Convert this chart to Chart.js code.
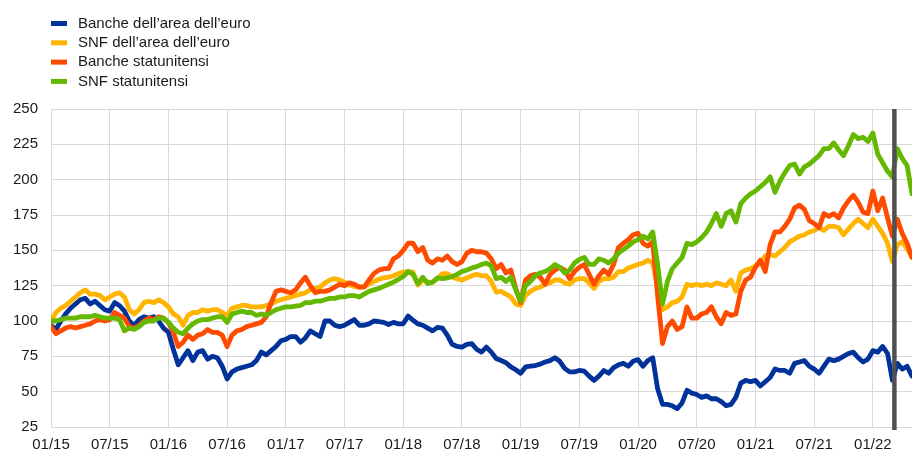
<!DOCTYPE html>
<html>
  <head>
    <meta charset="UTF-8">
    <title>Indici azionari</title>
    <script src="https://cdn.jsdelivr.net/npm/chart.js@4.4.1/dist/chart.umd.min.js"></script>
    <style>
      body { margin: 0; background: #fff; }
      #wrap { position: relative; width: 912px; height: 453px; }
    </style>
  </head>
  <body>
    <div id="wrap"><canvas id="chart"></canvas></div>

    <script>
      // half-month steps since 01/2015
      const months = Array.from({ length: 177 }, (_, i) => i / 2);

      const tickMonths = [0, 6, 12, 18, 24, 30, 36, 42, 48, 54, 60, 66, 72, 78, 84];
      const tickLabels = ['01/15', '07/15', '01/16', '07/16', '01/17', '07/17', '01/18', '07/18',
                          '01/19', '07/19', '01/20', '07/20', '01/21', '07/21', '01/22'];

      const seriesNames = ['Banche dell\u2019area dell\u2019euro', 'SNF dell\u2019area dell\u2019euro',
                           'Banche statunitensi', 'SNF statunitensi'];

      // one row = six months
      const euroBanks = [
        97, 94, 100, 105, 109, 112, 115, 116, 112, 114, 111, 108,
        107, 113, 111, 107, 100, 97, 101, 103, 102, 103, 100, 95,
        92, 80, 69, 74, 79, 72, 78, 79, 73, 75, 74, 68,
        59, 64, 66, 67, 68, 69, 72, 78, 76, 79, 82, 86,
        87, 89, 89, 85, 88, 93, 91, 89, 100, 100, 97, 96,
        97, 99, 101, 97, 97, 98, 100, 99.5, 99, 97.5, 99, 98,
        98, 103.5, 100.5, 98, 97, 95, 93, 95.5, 95, 90, 83.5, 82,
        81.5, 83.5, 84, 80, 78, 81.5, 78, 73.5, 72, 70.5, 67.5, 65.5,
        63, 67.5, 68, 68.5, 69.5, 71, 72, 74, 71.5, 66.5, 64, 64,
        65, 64.5, 61, 58, 61, 65, 63, 67, 69, 70, 68, 71.5,
        72.7, 68, 72, 74, 52, 41, 41, 40, 38, 42, 51, 49,
        48, 46, 47, 45, 45, 43, 40, 41, 46, 56, 58, 57,
        58, 54, 57, 60, 66, 65, 65, 63, 70, 71, 72, 68,
        66, 63, 68, 73, 72, 73, 75, 77, 78, 74, 71, 73,
        79, 78, 82, 77, 58, 70, 66, 68,
        61
      ];

      const euroNfc = [
        100, 106, 109, 111, 114, 117, 120, 122, 119, 119, 118, 115,
        117, 119, 120, 117, 108, 105, 108, 113, 114, 113, 115, 113,
        110, 105, 103, 97, 104, 106, 106, 108, 107, 108, 108, 106,
        104, 109, 110, 111, 111, 110, 110, 110, 111, 112, 114, 115,
        116, 117, 118, 119, 120, 122, 123, 124, 127, 129, 130, 129,
        127.5, 125.5, 124.5, 124, 124.5, 126, 128, 129.5, 130.5, 131, 132, 133.5,
        134.5, 135, 134.5, 125.5, 129, 127.5, 127.5, 130, 133.5, 133.5, 131, 130,
        129, 130.5, 132, 133, 132, 132, 128, 120.5, 121, 119, 117, 112,
        111, 118, 121, 123, 124, 126, 127, 129, 129, 127, 126, 129,
        130, 130, 127, 123, 128, 130, 130, 131, 135, 135, 137.5, 138.7,
        140, 141, 143, 141, 124, 108, 110, 113, 114, 117, 126, 125,
        126, 125, 126, 125, 127, 126, 125, 129, 121, 134, 136, 137,
        139, 141, 146, 147, 146, 149, 152, 156, 158, 160, 161, 163,
        164, 166, 164, 167, 167, 166, 161, 165, 169, 172, 169, 166,
        172, 167, 162, 155, 142, 154, 156, 151,
        145
      ];

      const usBanks = [
        96, 91, 93, 95, 96, 95, 96, 97, 98, 100, 101, 100,
        101, 106, 104, 102, 96, 95, 97, 100, 102, 101, 103, 102,
        99, 92, 82, 85, 90, 87, 90, 91, 94, 92, 92, 90,
        82, 90, 93, 94, 96, 97, 98, 99, 103, 113, 121, 122,
        121, 120, 122, 127, 131, 125, 120, 121, 121, 122, 124, 126,
        125, 127, 126, 124, 124, 129, 133.5, 136, 137, 137, 144, 146,
        150, 155, 155, 149, 152, 143, 141, 144, 143, 146, 142, 140,
        142, 148, 150, 149, 149, 148, 144, 137, 140, 134, 136, 123,
        113, 129, 132, 133, 131, 126, 133, 136, 138, 136, 130, 135,
        138, 140, 133, 126, 132, 136, 133, 140, 152, 155, 157.5, 161,
        162, 155, 153, 156, 118, 84, 96, 100, 94, 96, 110, 102,
        102, 105, 106, 110, 103, 98, 106, 104, 105, 121, 129, 131,
        138, 143, 135, 154, 163, 163, 167, 172, 180, 182, 179, 171,
        169, 166, 176, 174, 176, 173, 180, 185, 189, 184, 177, 176,
        192, 178, 187, 173, 160, 172, 162, 155,
        145
      ];

      const usNfc = [
        100, 100, 101, 102, 102, 102, 103, 103, 103, 104, 103, 102,
        102, 102, 101, 93, 95, 94, 96, 99, 100, 100, 102, 102,
        99, 95, 92, 91, 95, 98, 100, 101, 101, 102, 103, 103,
        99, 105, 106, 107, 106, 106, 104, 105, 104, 106, 108, 109,
        110, 110, 110.5, 111, 113, 113, 114, 114, 115, 116, 116, 117,
        117, 118, 118, 117, 119, 121, 122, 123, 124.5, 126, 127.5, 129.5,
        131.5, 135, 133, 126.5, 131, 126.5, 127.5, 130.5, 130, 130.5, 131.5, 133,
        135, 136, 137.5, 138.5, 140, 141, 139, 130, 131, 128, 131, 122,
        114, 125, 128, 132, 134, 135, 137, 140, 138, 134, 136, 141,
        143.5, 145, 140, 140, 144, 143, 141, 144, 148, 150.5, 153, 156,
        157.5, 160, 158, 163, 140, 112, 128, 137, 141, 145, 155, 154,
        156, 159, 163, 169, 176, 167, 176, 178, 170, 183, 187, 190,
        192, 195, 198, 202, 191, 199, 205, 210, 211, 204, 209, 211,
        214, 217, 222, 222, 226, 221, 217, 224, 232, 229, 230, 227,
        233, 218, 212, 206, 202, 222, 215, 210,
        190
      ];

      const eventMonth = 86.2; // vertical marker, end of February 2022

      const colors = ['#003299', '#ffb400', '#ff4b00', '#65b800'];
      const FONT = '"Liberation Sans", Arial, sans-serif';

      const extras = {
        id: 'extras',
        afterDatasetsDraw(chart) {
          const ctx = chart.ctx;
          const x = chart.scales.x.getPixelForValue(eventMonth);
          ctx.save();
          ctx.strokeStyle = '#505050';
          ctx.lineWidth = 4.5;
          ctx.beginPath();
          ctx.moveTo(x, chart.chartArea.top);
          ctx.lineTo(x, chart.chartArea.bottom + 3);
          ctx.stroke();
          ctx.restore();
        },
        afterDraw(chart) {
          // legend stacked in one column, top left
          const ctx = chart.ctx;
          ctx.save();
          ctx.font = '15px ' + FONT;
          ctx.textBaseline = 'middle';
          chart.data.datasets.forEach((ds, i) => {
            const y = 23.5 + i * 19.3;
            ctx.fillStyle = ds.borderColor;
            ctx.fillRect(51, y - 2.5, 16, 5);
            ctx.fillStyle = '#1a1a1a';
            ctx.fillText(ds.label, 78, y);
          });
          ctx.restore();
        }
      };

      const allSeries = [euroBanks, euroNfc, usBanks, usNfc];
      const drawOrder = [3, 2, 1, 0];

      new Chart(document.getElementById('chart'), {
        type: 'line',
        data: {
          labels: months,
          datasets: allSeries.map((values, i) => ({
            label: seriesNames[i],
            data: values,
            borderColor: colors[i],
            backgroundColor: colors[i],
            borderWidth: 4.8,
            pointRadius: 0,
            borderJoinStyle: 'round',
            borderCapStyle: 'round',
            tension: 0,
            order: drawOrder[i]
          }))
        },
        options: {
          responsive: true,
          maintainAspectRatio: false,
          animation: false,
          layout: { padding: { top: 109, left: 0, right: 0, bottom: 0 } },
          plugins: {
            legend: { display: false },
            tooltip: { enabled: false }
          },
          scales: {
            x: {
              type: 'linear',
              min: 0,
              max: 88,
              afterBuildTicks(scale) {
                scale.ticks = tickMonths.map(v => ({ value: v }));
              },
              afterFit(scale) { scale.height = 26; },
              ticks: {
                autoSkip: false,
                maxRotation: 0,
                padding: 9,
                color: '#1a1a1a',
                font: { family: FONT, size: 15 },
                callback: (v, i) => tickLabels[i]
              },
              grid: { color: '#d9d9d9', drawTicks: false },
              border: { color: '#d9d9d9' }
            },
            y: {
              min: 25,
              max: 250,
              afterFit(scale) { scale.width = 51; },
              ticks: {
                stepSize: 25,
                padding: 13,
                color: '#1a1a1a',
                font: { family: FONT, size: 15 }
              },
              grid: { color: '#d9d9d9', drawTicks: false },
              border: { color: '#d9d9d9' }
            }
          }
        },
        plugins: [extras]
      });
    </script>
  </body>
</html>
